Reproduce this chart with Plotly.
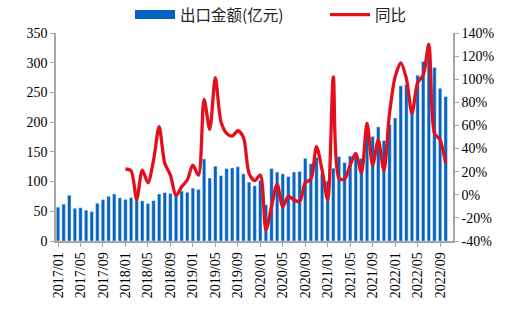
import plotly.graph_objects as go

months = [f"{y}/{m:02d}" for y in range(2017, 2023) for m in range(1, 13)][:70]

export_value = [
    57, 62, 77, 55, 56, 52, 49.5, 63.5, 69.7, 75.3, 79, 72.5,
    70, 73, 70, 67.5, 63, 68, 79, 81.5, 80, 76, 84, 82,
    89, 87, 138, 106, 126, 110, 122, 123, 125, 113, 99, 93,
    102, 61, 122, 116, 113, 108.5, 116, 117, 139, 130, 140.5, 113,
    101, 122.5, 142, 132, 143, 147, 139, 189, 176, 192, 169, 196,
    207, 261, 263, 224, 279, 302, 316, 292, 257, 243,
]

yoy = [None] * 12 + [
    22.3, 20.8, -3.9, 21.4, 10.4, 30, 58.9, 27.2, 17, -0.8, 7, 12.8,
    25.7, 17, 82.6, 56.6, 101.3, 63.2, 53.2, 50.8, 55.4, 49.7, 18.6, 12.2,
    17.1, -30.5, -10.3, 9.3, -10.3, -1.1, -4.5, -6, 10.4, 13.4, 41.6, 21.4,
    -4.5, 102.1, 14.2, 13.6, 25.7, 35.8, 19.1, 61.8, 25.7, 47.4, 20.8, 70.4,
    102, 114.2, 100.7, 70.4, 97, 103.6, 130.4, 53.2, 47.4, 27.2,
]

left_ticks = [0, 50, 100, 150, 200, 250, 300, 350]
right_ticks = [-40, -20, 0, 20, 40, 60, 80, 100, 120, 140]

idx = list(range(len(months)))
tick_idx = idx[::4]
tick_text = [months[i] for i in tick_idx]

BLUE = "#0563C1"
RED = "#E3101C"
SERIF = "Times New Roman"

fig = go.Figure()
fig.add_trace(go.Bar(
    x=idx, y=export_value, marker_color=BLUE, name="出口金额(亿元)",
    showlegend=False, yaxis="y",
))
fig.add_trace(go.Scatter(
    x=[None], y=[None], mode="lines", line=dict(color=BLUE, width=9),
    name="出口金额(亿元)", yaxis="y",
))
fig.add_trace(go.Scatter(
    x=idx, y=yoy, mode="lines", line=dict(color=RED, width=3.3, shape="spline", smoothing=0.8),
    name="同比", yaxis="y2", connectgaps=False,
))

axis_font = dict(family=SERIF, size=14, color="#000")

fig.update_layout(
    width=517, height=322,
    margin=dict(l=56, r=64, t=33, b=81, autoexpand=False),
    paper_bgcolor="white", plot_bgcolor="white",
    bargap=0.38,
    showlegend=True,
    legend=dict(
        orientation="h", xref="container", yref="container",
        x=130 / 517, xanchor="left", y=1 - 15 / 322, yanchor="middle",
        font=dict(family="Noto Sans CJK SC", size=15.5, color="#222"),
        itemwidth=40, entrywidth=140, tracegroupgap=0, bgcolor="rgba(0,0,0,0)",
    ),
    xaxis=dict(
        range=[-0.36, 70.3], tickmode="array", tickvals=tick_idx, ticktext=tick_text,
        tickangle=-90, tickfont=dict(family=SERIF, size=14, color="#000"),
        showline=True, linecolor="#A6A6A6", linewidth=1.5,
        ticks="outside", ticklen=4, tickcolor="#A6A6A6", showgrid=False, zeroline=False,
    ),
    yaxis=dict(
        range=[0, 350], tickmode="array", tickvals=left_ticks,
        tickfont=axis_font, showline=True, linecolor="#A6A6A6", linewidth=1.5,
        ticks="outside", ticklen=4, tickcolor="#A6A6A6", showgrid=False, zeroline=False,
    ),
    yaxis2=dict(
        range=[-40, 140], tickmode="array", tickvals=right_ticks,
        ticktext=[f"{v}%" for v in right_ticks],
        tickfont=axis_font, overlaying="y", side="right",
        showline=True, linecolor="#A6A6A6", linewidth=1.5,
        ticks="outside", ticklen=4, tickcolor="#A6A6A6", showgrid=False, zeroline=False,
    ),
)

fig.write_html("out.html")
